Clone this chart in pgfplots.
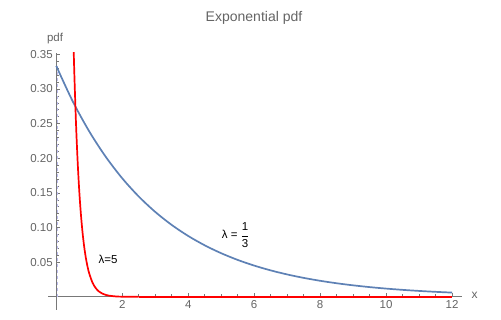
\documentclass[border=0pt]{standalone}
\usepackage{fontspec}
\setmainfont{Liberation Sans}
\usepackage{pgfplots}
\pgfplotsset{compat=1.18}
\definecolor{mblue}{RGB}{94,129,181}
\definecolor{mgray}{RGB}{100,100,100}
\definecolor{axgray}{RGB}{120,120,120}
\begin{document}
\begin{tikzpicture}[x=1pt,y=1pt]
\path[use as bounding box] (0,0) rectangle (501,320);
\begin{axis}[
  at={(48pt,10pt)}, anchor=south west,
  scale only axis, width=414pt, height=257pt,
  xmin=-0.25, xmax=12.3, ymin=-0.019, ymax=0.352,
  axis lines=middle,
  axis line style={-, draw=axgray, line width=0.8pt},
  xtick={2,4,6,8,10,12},
  ytick={0.05,0.10,0.15,0.20,0.25,0.30,0.35},
  minor x tick num=3, minor y tick num=4,
  tick align=inside,
  major tick length=4pt, minor tick length=2.5pt,
  tick style={draw=axgray, line width=0.6pt},
  every tick label/.append style={text=mgray, font=\fontsize{11.5}{12}\selectfont},
  /pgf/number format/assume math mode=true,
  yticklabel style={/pgf/number format/fixed, /pgf/number format/fixed zerofill, /pgf/number format/precision=2},
  clip=true,
]
\addplot[draw={rgb,255:red,190;green,190;blue,240}, dashed, line width=0.7pt] coordinates {(0.02,0) (0.02,0.3333)};
\addplot[mblue, line width=1.7pt, smooth] table {
x y
0 0.33333
0.5 0.28216
1 0.23884
1.5 0.20218
2 0.17114
2.5 0.14487
3 0.12263
3.5 0.10380
4 0.08787
4.5 0.07438
5 0.06296
5.5 0.05329
6 0.04511
6.5 0.03819
7 0.03232
7.5 0.02736
8 0.02316
8.5 0.01960
9 0.01660
9.5 0.01405
10 0.01189
10.5 0.01007
11 0.00852
11.5 0.00721
12 0.00611
};
\addplot[red, line width=1.7pt, smooth] table {
x y
0.52 0.3714
0.55 0.3196
0.6 0.2489
0.65 0.1939
0.7 0.1510
0.75 0.1176
0.8 0.0916
0.85 0.0713
0.9 0.0555
0.95 0.0433
1.0 0.0337
1.1 0.0204
1.2 0.0124
1.3 0.0075
1.4 0.0046
1.5 0.0028
1.6 0.0017
1.8 0.0006
2.0 0.0002
2.5 0.0000
};
\addplot[red, line width=1.7pt] coordinates {(2.5,0) (12,0)};
\node[font=\fontsize{11.5}{12}\selectfont] at (axis cs:1.57,0.0547) {λ=5};
\node[font=\fontsize{11.5}{12}\selectfont] at (axis cs:5.44,0.0893) {λ = $\displaystyle\frac{\mbox{\fontsize{11.5}{12}\selectfont 1}}{\mbox{\fontsize{11.5}{12}\selectfont 3}}$};
\end{axis}
\node[text=mgray, font=\fontsize{14}{16}\selectfont] at (254,302) {Exponential pdf};
\node[text=mgray, font=\fontsize{11.5}{12}\selectfont] at (55,281) {pdf};
\node[text=mgray, font=\fontsize{12}{12}\selectfont] at (474.5,25) {x};
\end{tikzpicture}
\end{document}
